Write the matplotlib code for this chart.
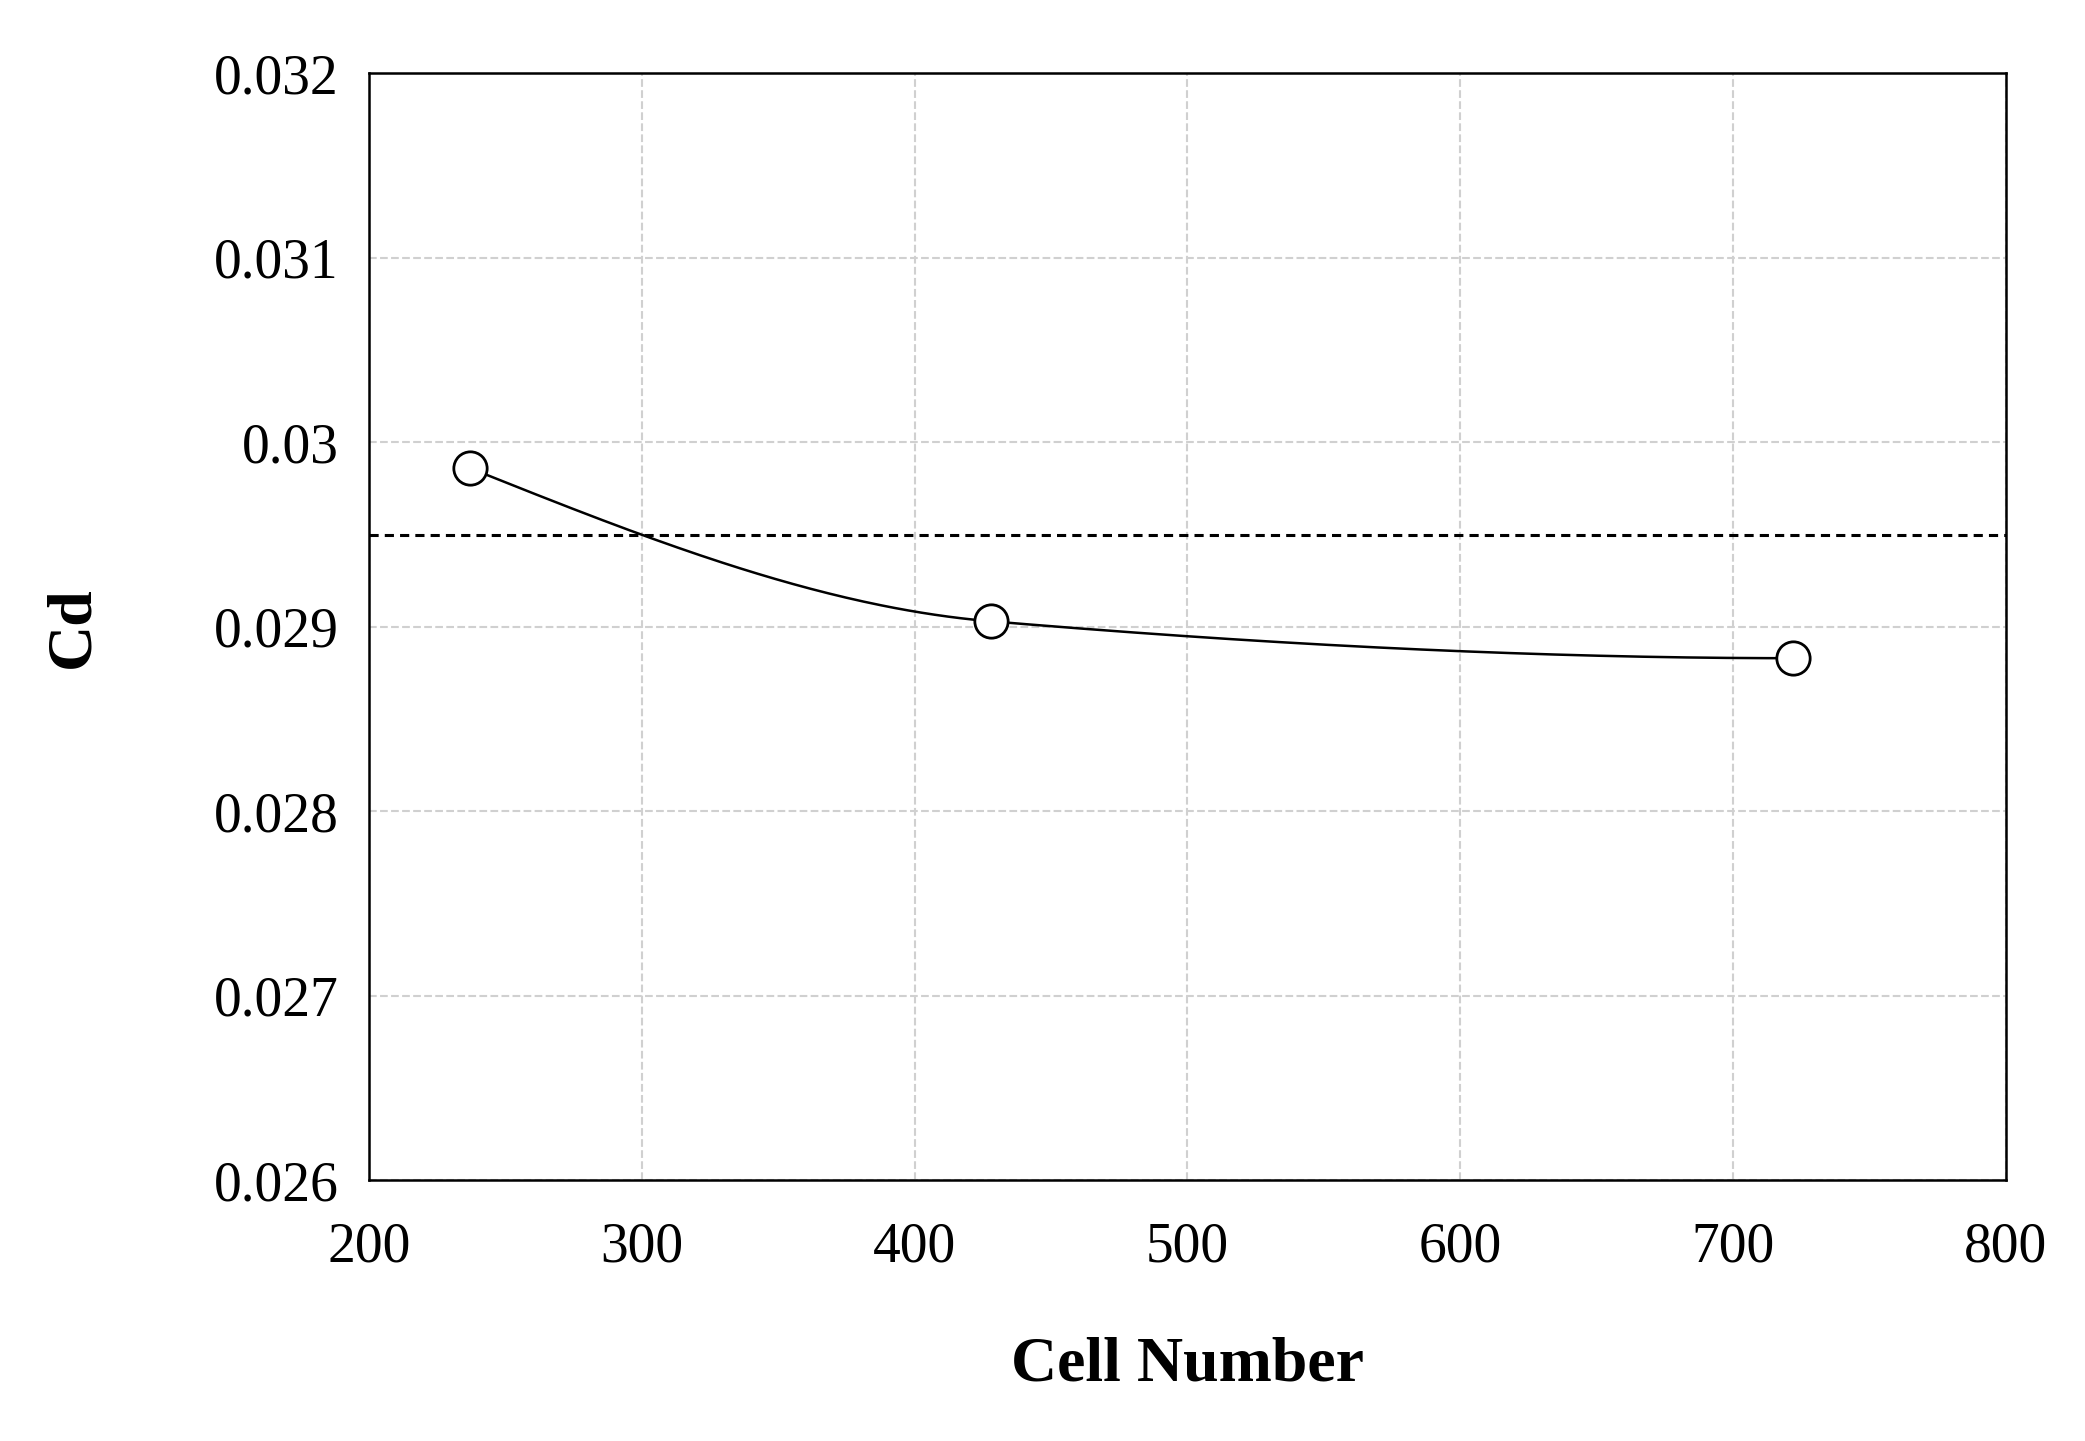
import numpy as np
import matplotlib
matplotlib.use("Agg")
import matplotlib.pyplot as plt

cells = [237, 428, 722]
cd = [0.02986, 0.02903, 0.02883]
ref_cd = 0.0295
xticks = [200, 300, 400, 500, 600, 700, 800]
yticks = [0.026, 0.027, 0.028, 0.029, 0.03, 0.031, 0.032]
ytick_labels = ["0.026", "0.027", "0.028", "0.029", "0.03", "0.031", "0.032"]

plt.rcParams['font.family'] = ['Liberation Serif', 'DejaVu Serif']

def pchip(x, y, xs):
    x = np.asarray(x, float); y = np.asarray(y, float)
    h = np.diff(x); d = np.diff(y) / h
    m = np.zeros_like(y)
    for k in range(1, len(x) - 1):
        if d[k-1] * d[k] > 0:
            w1 = 2*h[k] + h[k-1]; w2 = h[k] + 2*h[k-1]
            m[k] = (w1 + w2) / (w1/d[k-1] + w2/d[k])
    m[0] = d[0] * 1.5 - m[1] * 0.5
    m[-1] = 0.0
    out = []
    for xv in xs:
        k = min(np.searchsorted(x, xv) - 1, len(x) - 2); k = max(k, 0)
        t = (xv - x[k]) / h[k]
        h00 = 2*t**3 - 3*t**2 + 1; h10 = t**3 - 2*t**2 + t
        h01 = -2*t**3 + 3*t**2; h11 = t**3 - t**2
        out.append(h00*y[k] + h10*h[k]*m[k] + h01*y[k+1] + h11*h[k]*m[k+1])
    return np.array(out)

fig = plt.figure(figsize=(20.85, 14.41), dpi=100)
ax = fig.add_axes([0.177, 0.181, 0.785, 0.768])
xs = np.linspace(cells[0], cells[-1], 300)
ax.plot(xs, pchip(cells, cd, xs), color='black', lw=1.8)
ax.plot(cells, cd, 'o', ms=24, mfc='white', mec='black', mew=2)
ax.axhline(ref_cd, color='black', ls=(0, (3, 2)), lw=2.2)
ax.set_xlim(200, 800); ax.set_ylim(0.026, 0.032)
ax.set_xticks(xticks); ax.set_yticks(yticks)
ax.set_yticklabels(ytick_labels)
ax.grid(True, color='#d0d0d0', ls='--', lw=1.5)
ax.tick_params(labelsize=40, length=0)
ax.tick_params(axis='x', pad=30)
ax.tick_params(axis='y', pad=22)
for s in ax.spines.values():
    s.set_linewidth(1.8)
ax.set_xlabel("Cell Number", fontsize=46, fontweight='bold', labelpad=45)
ax.set_ylabel("Cd", fontsize=46, fontweight='bold', labelpad=80)
fig.savefig("out.png", dpi=100, facecolor='white')
